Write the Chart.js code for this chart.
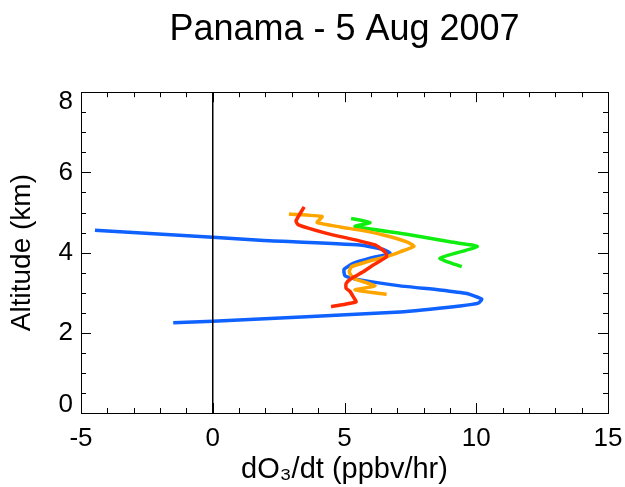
<!DOCTYPE html>
<html>
<head>
<meta charset="utf-8">
<script src="https://cdn.jsdelivr.net/npm/chart.js@4.4.0/dist/chart.umd.min.js"></script>
<style>
  body { margin: 0; background: #fff; }
  #wrap { width: 625px; height: 487px; }
</style>
</head>
<body>
<div id="wrap"><canvas id="profile" width="625" height="487"></canvas></div>
<script>
const chartTitle = 'Panama - 5 Aug 2007';
const xTitle = 'dO\u2083/dt (ppbv/hr)';
const yTitle = 'Altitude (km)';
const xTicks = [-5, 0, 5, 10, 15];
const yTicks = [0, 2, 4, 6, 8];

// vertical zero line
const zeroRate = [0, 0];
const zeroAlt = [0, 8];

const blueRate = [-4.47, 0, 1.79, 5.59, 6.47, 6.73, 5.97, 5.33, 4.98, 5.02, 5.59, 7.11, 8.62, 9.64, 10.21, 10.08, 9.38, 7.11, 0, -1.5];
const blueAlt  = [4.56, 4.38, 4.31, 4.19, 4.08, 3.98, 3.86, 3.73, 3.58, 3.42, 3.32, 3.17, 3.07, 2.98, 2.84, 2.74, 2.67, 2.52, 2.29, 2.25];

const greenRate = [5.25, 5.97, 5.40, 7.36, 9.00, 10.04, 8.62, 9.45];
const greenAlt  = [4.85, 4.75, 4.65, 4.46, 4.27, 4.15, 3.86, 3.65];

const orangeRate = [2.89, 4.15, 3.96, 4.83, 5.59, 6.47, 7.36, 7.64, 7.11, 6.60, 5.84, 5.27, 5.18, 5.33, 6.16, 5.40, 6.60];
const orangeAlt  = [4.96, 4.90, 4.75, 4.64, 4.56, 4.44, 4.27, 4.16, 4.02, 3.90, 3.77, 3.65, 3.52, 3.36, 3.17, 3.07, 2.96];

const redRate = [3.47, 3.16, 3.25, 4.32, 5.46, 6.16, 6.54, 6.60, 6.09, 5.71, 5.27, 5.06, 5.06, 5.21, 5.33, 5.44, 4.49];
const redAlt  = [5.14, 4.79, 4.69, 4.48, 4.31, 4.19, 4.02, 3.90, 3.69, 3.52, 3.36, 3.23, 3.11, 3.03, 2.90, 2.77, 2.65];

const font = 'Liberation Sans';

function pairs(rate, alt) {
  return rate.map((r, i) => ({ x: r, y: alt[i] }));
}

function profile(rate, alt, color, width) {
  return {
    data: pairs(rate, alt),
    borderColor: color,
    borderWidth: width,
    showLine: true,
    pointRadius: 0,
    tension: 0.15,
    fill: false
  };
}

// IDL style frame: inward ticks on all four sides, end labels of y pulled inside
const frameTicks = {
  id: 'frameTicks',
  afterDatasetsDraw(chart) {
    const { ctx, chartArea: a, scales: { x, y } } = chart;
    ctx.save();
    ctx.strokeStyle = '#000';
    ctx.lineWidth = 1;
    ctx.strokeRect(Math.round(a.left) + 0.5, Math.round(a.top) + 0.5,
      Math.round(a.right - a.left), Math.round(a.bottom - a.top));
    ctx.beginPath();
    x.ticks.forEach(t => {
      const px = Math.round(x.getPixelForValue(t.value)) + 0.5;
      const len = xTicks.includes(t.value) ? 10 : 5;
      ctx.moveTo(px, a.bottom); ctx.lineTo(px, a.bottom - len);
      ctx.moveTo(px, a.top); ctx.lineTo(px, a.top + len);
    });
    y.ticks.forEach(t => {
      const py = Math.round(y.getPixelForValue(t.value)) + 0.5;
      const len = yTicks.includes(t.value) ? 10 : 5;
      ctx.moveTo(a.left, py); ctx.lineTo(a.left + len, py);
      ctx.moveTo(a.right, py); ctx.lineTo(a.right - len, py);
    });
    ctx.stroke();

    ctx.fillStyle = '#000';
    ctx.font = '26px "' + font + '"';
    ctx.textAlign = 'right';
    ctx.textBaseline = 'middle';
    yTicks.forEach(v => {
      let py = y.getPixelForValue(v);
      if (v === y.max) py += 10;
      if (v === y.min) py -= 8;
      ctx.fillText(String(v), a.left - 8, py);
    });
    ctx.restore();
  }
};

new Chart(document.getElementById('profile'), {
  type: 'scatter',
  data: {
    datasets: [
      profile(zeroRate, zeroAlt, '#000000', 1.5),
      profile(redRate, redAlt, '#ff2a00', 3.5),
      profile(orangeRate, orangeAlt, '#ffa500', 3.5),
      profile(greenRate, greenAlt, '#10ee10', 3.5),
      profile(blueRate, blueAlt, '#0f62ff', 3.5)
    ]
  },
  options: {
    responsive: false,
    animation: false,
    layout: { padding: { left: 0, right: 17, top: 0, bottom: 0 } },
    scales: {
      x: {
        type: 'linear',
        min: -5,
        max: 15,
        grid: { display: true, drawOnChartArea: false, drawTicks: true, tickLength: 10, tickColor: 'rgba(0,0,0,0)' },
        border: { display: false },
        afterFit: s => { s.height = 74; },
        ticks: {
          stepSize: 1,
          autoSkip: false,
          maxRotation: 0,
          padding: 0,
          color: '#000',
          font: { family: font, size: 26 },
          callback: v => xTicks.includes(v) ? String(v) : ''
        },
        title: {
          display: true,
          text: xTitle,
          color: '#000',
          font: { family: font, size: 29 },
          padding: { top: 0, bottom: 0 }
        }
      },
      y: {
        type: 'linear',
        min: 0,
        max: 8,
        grid: { display: false },
        border: { display: false },
        afterFit: s => { s.width = 81; },
        ticks: {
          stepSize: 0.5,
          autoSkip: false,
          display: false
        },
        title: {
          display: true,
          text: yTitle,
          color: '#000',
          font: { family: font, size: 28 },
          padding: { top: 5, bottom: 0 }
        }
      }
    },
    plugins: {
      legend: { display: false },
      tooltip: { enabled: false },
      title: {
        display: true,
        text: chartTitle,
        fullSize: false,
        color: '#000',
        font: { family: font, size: 36, weight: 'normal' },
        padding: { top: 8, bottom: 41 }
      }
    }
  },
  plugins: [frameTicks]
});
</script>
</body>
</html>
